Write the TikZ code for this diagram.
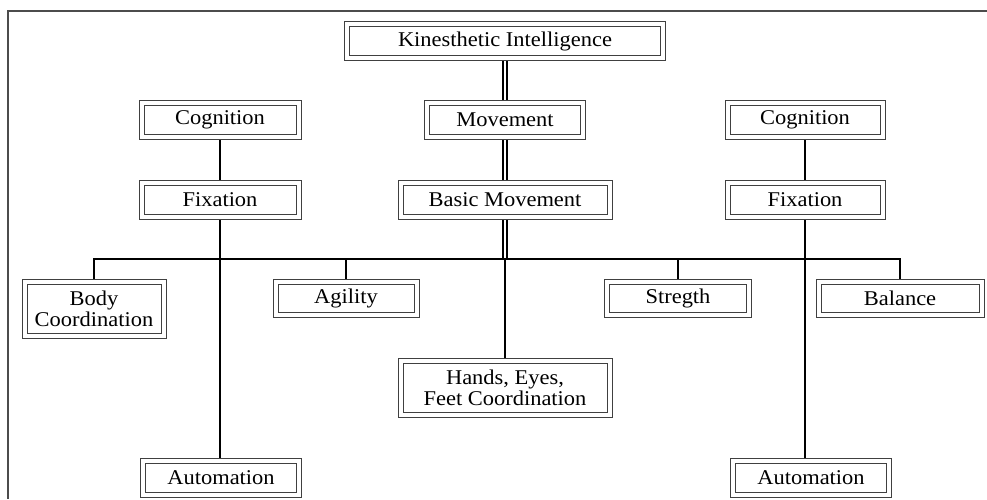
\documentclass[tikz,border=0pt]{standalone}
\usepackage{fontspec}
\setmainfont{Liberation Serif}[FakeStretch=1.07]
\usetikzlibrary{backgrounds}
\begin{document}
\begin{tikzpicture}[x=1pt,y=-1pt,
box/.style ={rectangle, draw=black!75, fill=white, line width=0.8pt,
  align=center, inner sep=0pt, minimum height=39pt,
  font=\fontsize{21}{21}\selectfont,
  path picture={\draw[black!75, line width=0.8pt]
    ([shift={(5pt,-5pt)}]path picture bounding box.north west) rectangle
    ([shift={(-5pt,5pt)}]path picture bounding box.south east);}
},
tall/.style ={box, minimum height=59pt},
link/.style ={draw=black, line width=1.6pt},
dbl/.style ={draw=black, double=white, double distance=2pt, line width=1.6pt}]
\useasboundingbox (0,0) rectangle (987,499);
\draw[black!70, line width=2pt] (987,11) -- (8,11) -- (8,499);

\node (ki) at (505,41) [box, minimum width=321pt] {Kinesthetic Intelligence};
\node (mov) at (505,120) [box, minimum width=161pt] {Movement};
\node (basic) at (505,200) [box, minimum width=214pt] {Basic Movement};

\node (cogL) at (220,120) [box, minimum width=162pt] {Cognition};
\node (fixL) at (220,200) [box, minimum width=162pt] {Fixation};
\node (cogR) at (805,120) [box, minimum width=160pt] {Cognition};
\node (fixR) at (805,200) [box, minimum width=160pt] {Fixation};

\node (body) at (94,309) [tall, minimum width=144pt] {Body\\Coordination};
\node (agil) at (346,298) [box, minimum width=146pt, minimum height=38pt] {Agility};
\node (hands) at (505,388) [tall, minimum width=214pt] {Hands, Eyes,\\Feet Coordination};
\node (streng) at (678,298) [box, minimum width=147pt, minimum height=38pt] {Stregth};
\node (bal) at (900,298) [box, minimum width=168pt, minimum height=38pt] {Balance};

\node (autL) at (221,478) [box, minimum width=161pt] {Automation};
\node (autR) at (811,478) [box, minimum width=161pt] {Automation};

\coordinate (bus) at (505,259);

\begin{pgfonlayer}{background}
\draw[dbl] (ki) -- (mov);
\draw[dbl] (mov) -- (basic);
\draw[dbl] (basic) -- (bus);
\draw[link] (bus) -- (hands);
\draw[link] (body.north) |- (bus) -| (bal.north);
\draw[link] (agil.north) -- (agil.north |- bus);
\draw[link] (streng.north) -- (streng.north |- bus);
\draw[link] (cogL) -- (fixL);
\draw[link] (fixL.south) -- (fixL.south |- autL.north);
\draw[link] (cogR) -- (fixR);
\draw[link] (fixR.south) -- (fixR.south |- autR.north);
\end{pgfonlayer}

\end{tikzpicture}
\end{document}
